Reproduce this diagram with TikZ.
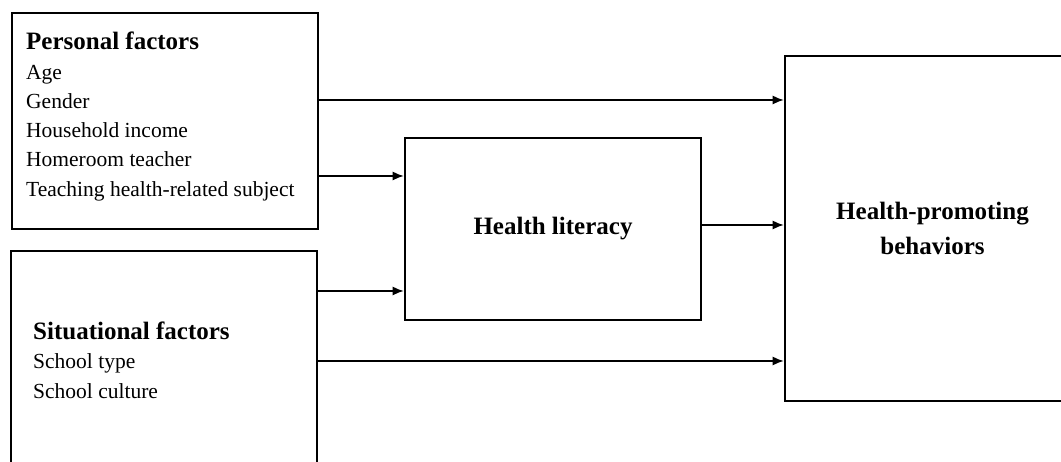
\documentclass[tikz,border=0pt]{standalone}
\usepackage{fontspec}
\setmainfont{Liberation Serif}
\usetikzlibrary{arrows.meta}

\tikzset{
	frame/.style={draw, line width=2.6pt, inner sep=0pt},
	listitem/.style={anchor=base west, inner sep=0pt, font=\fontsize{21.5}{29}\selectfont},
	heading/.style={anchor=base west, inner sep=0pt, font=\fontsize{25}{35}\selectfont\bfseries},
	arr/.style={-{Latex[length=11pt,width=9pt]}, line width=1.4pt}
}

\begin{document}
\begin{tikzpicture}[x=1pt, y=1pt]
		\useasboundingbox (0, 0) rectangle (1061, 462);
		
		% boxes
		\node[frame, minimum width=306pt, minimum height=216pt] (personal) at (165, 341) {};
		\node[frame, minimum width=306pt, minimum height=231pt] (situational) at (164, 95.5) {};
		\node[frame, minimum width=296pt, minimum height=182pt, font=\fontsize{25}{35}\selectfont\bfseries] (literacy) at (553, 233) {Health literacy};
		\node[frame, minimum width=295pt, minimum height=345pt, align=center, font=\fontsize{25}{35}\selectfont\bfseries] (behaviors) at (932.5, 233.5) {Health-promoting\\behaviors};
		
		% texts
		\node[heading] (pftitle) at (26, 412) {Personal factors};
		\foreach \t [count=\i] in {Age, Gender, Household income, Homeroom teacher, Teaching health-related subject}
			\node[listitem] (pf\i) at (26, 412-29.25*\i) {\t};
		\node[heading] (sftitle) at (33, 122.5) {Situational factors};
		\node[listitem] (sf1) at (33, 93) {School type};
		\node[listitem] (sf2) at (33, 63) {School culture};
		
		% arrows
		\draw[arr] (personal.east |- 0, 362) -- (behaviors.west |- 0, 362);
		\draw[arr] (personal.east |- 0, 286) -- (literacy.west |- 0, 286);
		\draw[arr] (situational.east |- 0, 171) -- (literacy.west |- 0, 171);
		\draw[arr] (literacy.east |- 0, 237) -- (behaviors.west |- 0, 237);
		\draw[arr] (situational.east |- 0, 101) -- (behaviors.west |- 0, 101);
	\end{tikzpicture}
\end{document}
